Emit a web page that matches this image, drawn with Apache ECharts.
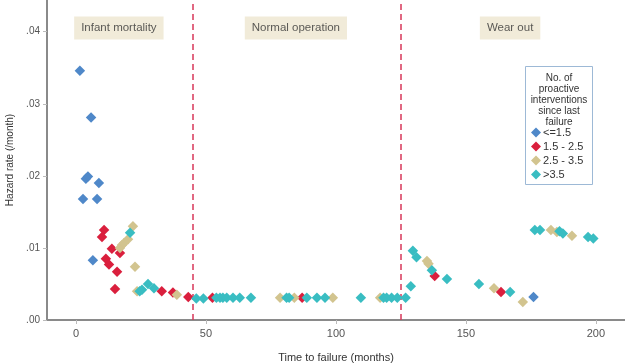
<!DOCTYPE html>
<html><head><meta charset="utf-8">
<script src="https://cdn.jsdelivr.net/npm/echarts@6/dist/echarts.min.js"></script>
<style>html,body{margin:0;padding:0;background:#fff}#c{width:625px;height:364px}</style>
</head><body><div id="c"></div>
<script>
// ---- data ----
const categories = ['<=1.5', '1.5 - 2.5', '2.5 - 3.5', '>3.5'];
const blueX = [1.5, 5.8, 3.8, 4.6, 8.8, 2.7, 8.1, 6.5, 176.0];
const blueY = [0.0346, 0.0281, 0.0196, 0.0199, 0.0190, 0.0168, 0.0168, 0.0083, 0.0032];
const redX = [10.8, 10.0, 13.8, 16.9, 11.5, 12.7, 15.8, 15.0, 33.0, 37.3, 43.2, 52.5, 87.0, 138.0, 163.5];
const redY = [0.0125, 0.0115, 0.0099, 0.0093, 0.0085, 0.0077, 0.0067, 0.0043, 0.0040, 0.0038, 0.0032, 0.0031, 0.0031, 0.0061, 0.0039];
const tanX = [16.9, 17.7, 18.5, 20.0, 21.9, 22.7, 23.5, 38.8, 78.5, 84.0, 98.8, 117.0, 135.0, 135.6, 160.8, 171.9, 182.7, 185.0, 190.8];
const tanY = [0.0100, 0.0104, 0.0107, 0.0112, 0.0130, 0.0074, 0.0040, 0.0035, 0.0031, 0.0031, 0.0031, 0.0031, 0.0082, 0.0078, 0.0044, 0.0025, 0.0125, 0.0122, 0.0117];
const cyanX = [20.8, 24.5, 25.4, 27.7, 30.0, 46.3, 49.0, 54.0, 55.4, 56.5, 58.0, 60.4, 63.0, 67.3, 81.0, 82.0, 88.8, 92.7, 95.8, 109.6, 118.3, 119.5, 121.4, 123.6, 126.8, 128.8, 129.6, 131.0, 136.9, 142.7, 155.0, 167.0, 176.5, 178.5, 186.0, 187.3, 197.0, 199.0];
const cyanY = [0.0121, 0.0040, 0.0042, 0.0050, 0.0044, 0.0030, 0.0030, 0.0031, 0.0031, 0.0031, 0.0031, 0.0031, 0.0031, 0.0031, 0.0031, 0.0031, 0.0031, 0.0031, 0.0031, 0.0031, 0.0031, 0.0031, 0.0031, 0.0031, 0.0031, 0.0047, 0.0096, 0.0087, 0.0069, 0.0057, 0.0050, 0.0039, 0.0125, 0.0125, 0.0123, 0.0120, 0.0115, 0.0113];
const phaseBounds = [45, 125];
const phaseLabels = ['Infant mortality', 'Normal operation', 'Wear out'];
const phaseLabelX = [16.5, 84.6, 167];
const xTicks = [0, 50, 100, 150, 200];
const yTicks = [0, 0.01, 0.02, 0.03, 0.04];

const colors = ['#4F88C9', '#DA1F3D', '#D2C48F', '#39BDC2'];
const FONT = 'Liberation Sans, Arial, sans-serif';
const zip = (xs, ys) => xs.map((x, i) => [x, ys[i]]);
const groups = [zip(blueX, blueY), zip(redX, redY), zip(tanX, tanY), zip(cyanX, cyanY)];

const chart = echarts.init(document.getElementById('c'));
const series = groups.map((d, i) => ({
  name: categories[i], type: 'scatter', data: d, symbol: 'diamond', symbolSize: 10.5,
  itemStyle: { color: colors[i], opacity: 1 }, z: 3 + i
}));
series.push({
  type: 'scatter', data: [], silent: true,
  markLine: {
    silent: true, symbol: ['none', 'none'], label: { show: false },
    lineStyle: { color: '#D8375A', type: [6, 4], width: 1.5 },
    data: phaseBounds.map(v => ({ xAxis: v }))
  }
});
series.push({
  type: 'scatter', data: phaseLabelX.map((x, i) => [x, 0.0405, phaseLabels[i]]), symbolSize: 0, silent: true, z: 10,
  label: {
    show: true, position: 'inside', formatter: p => p.data[2], fontFamily: FONT, fontSize: 11.5, color: '#333',
    backgroundColor: '#EDE6D0', padding: [6, 7, 5, 7]
  }
});

chart.setOption({
  animation: false,
  grid: { left: 47, right: 0, top: 0, bottom: 44, containLabel: false, outerBoundsMode: 'none' },
  xAxis: {
    type: 'value', min: -11.15, max: 211.2,
    name: 'Time to failure (months)', nameLocation: 'middle', nameGap: 32,
    nameTextStyle: { fontFamily: FONT, fontSize: 11, color: '#333' },
    axisLine: { onZero: false, lineStyle: { color: '#8A8A8A', width: 2 } },
    axisTick: { show: true, length: 4, lineStyle: { color: '#BBB' }, customValues: xTicks },
    axisLabel: { fontFamily: FONT, fontSize: 11, color: '#555', margin: 8, customValues: xTicks },
    splitLine: { show: false }
  },
  yAxis: {
    type: 'value', min: 0, max: 0.0444,
    name: 'Hazard rate (/month)', nameLocation: 'middle', nameGap: 31,
    nameTextStyle: { fontFamily: FONT, fontSize: 10, color: '#333' },
    axisLine: { show: true, onZero: false, lineStyle: { color: '#8A8A8A', width: 2 } },
    axisTick: { show: true, length: 4, lineStyle: { color: '#BBB' }, customValues: yTicks },
    axisLabel: { fontFamily: FONT, fontSize: 10, color: '#555', margin: 7, customValues: yTicks,
      formatter: v => v.toFixed(2).replace(/^0/, '') },
    splitLine: { show: false }
  },
  legend: {
    orient: 'vertical', left: 531, top: 127, itemGap: 3, itemWidth: 10, itemHeight: 10,
    padding: 0, data: categories.map(c => ({ name: c, icon: 'diamond' })),
    textStyle: { fontFamily: FONT, fontSize: 11, color: '#333', padding: [0, 0, 0, -3] }
  },
  graphic: [
    { type: 'rect', shape: { x: 525.5, y: 66.5, width: 67, height: 118 }, style: { fill: '#fff', stroke: '#9DB9D6', lineWidth: 1 }, z: 0 },
    { type: 'text', x: 559, y: 73, style: { text: 'No. of\nproactive\ninterventions\nsince last\nfailure', align: 'center',
      fontFamily: FONT, fontSize: 10, lineHeight: 11, fill: '#333' }, z: 1 }
  ],
  series: series
});
</script></body></html>
